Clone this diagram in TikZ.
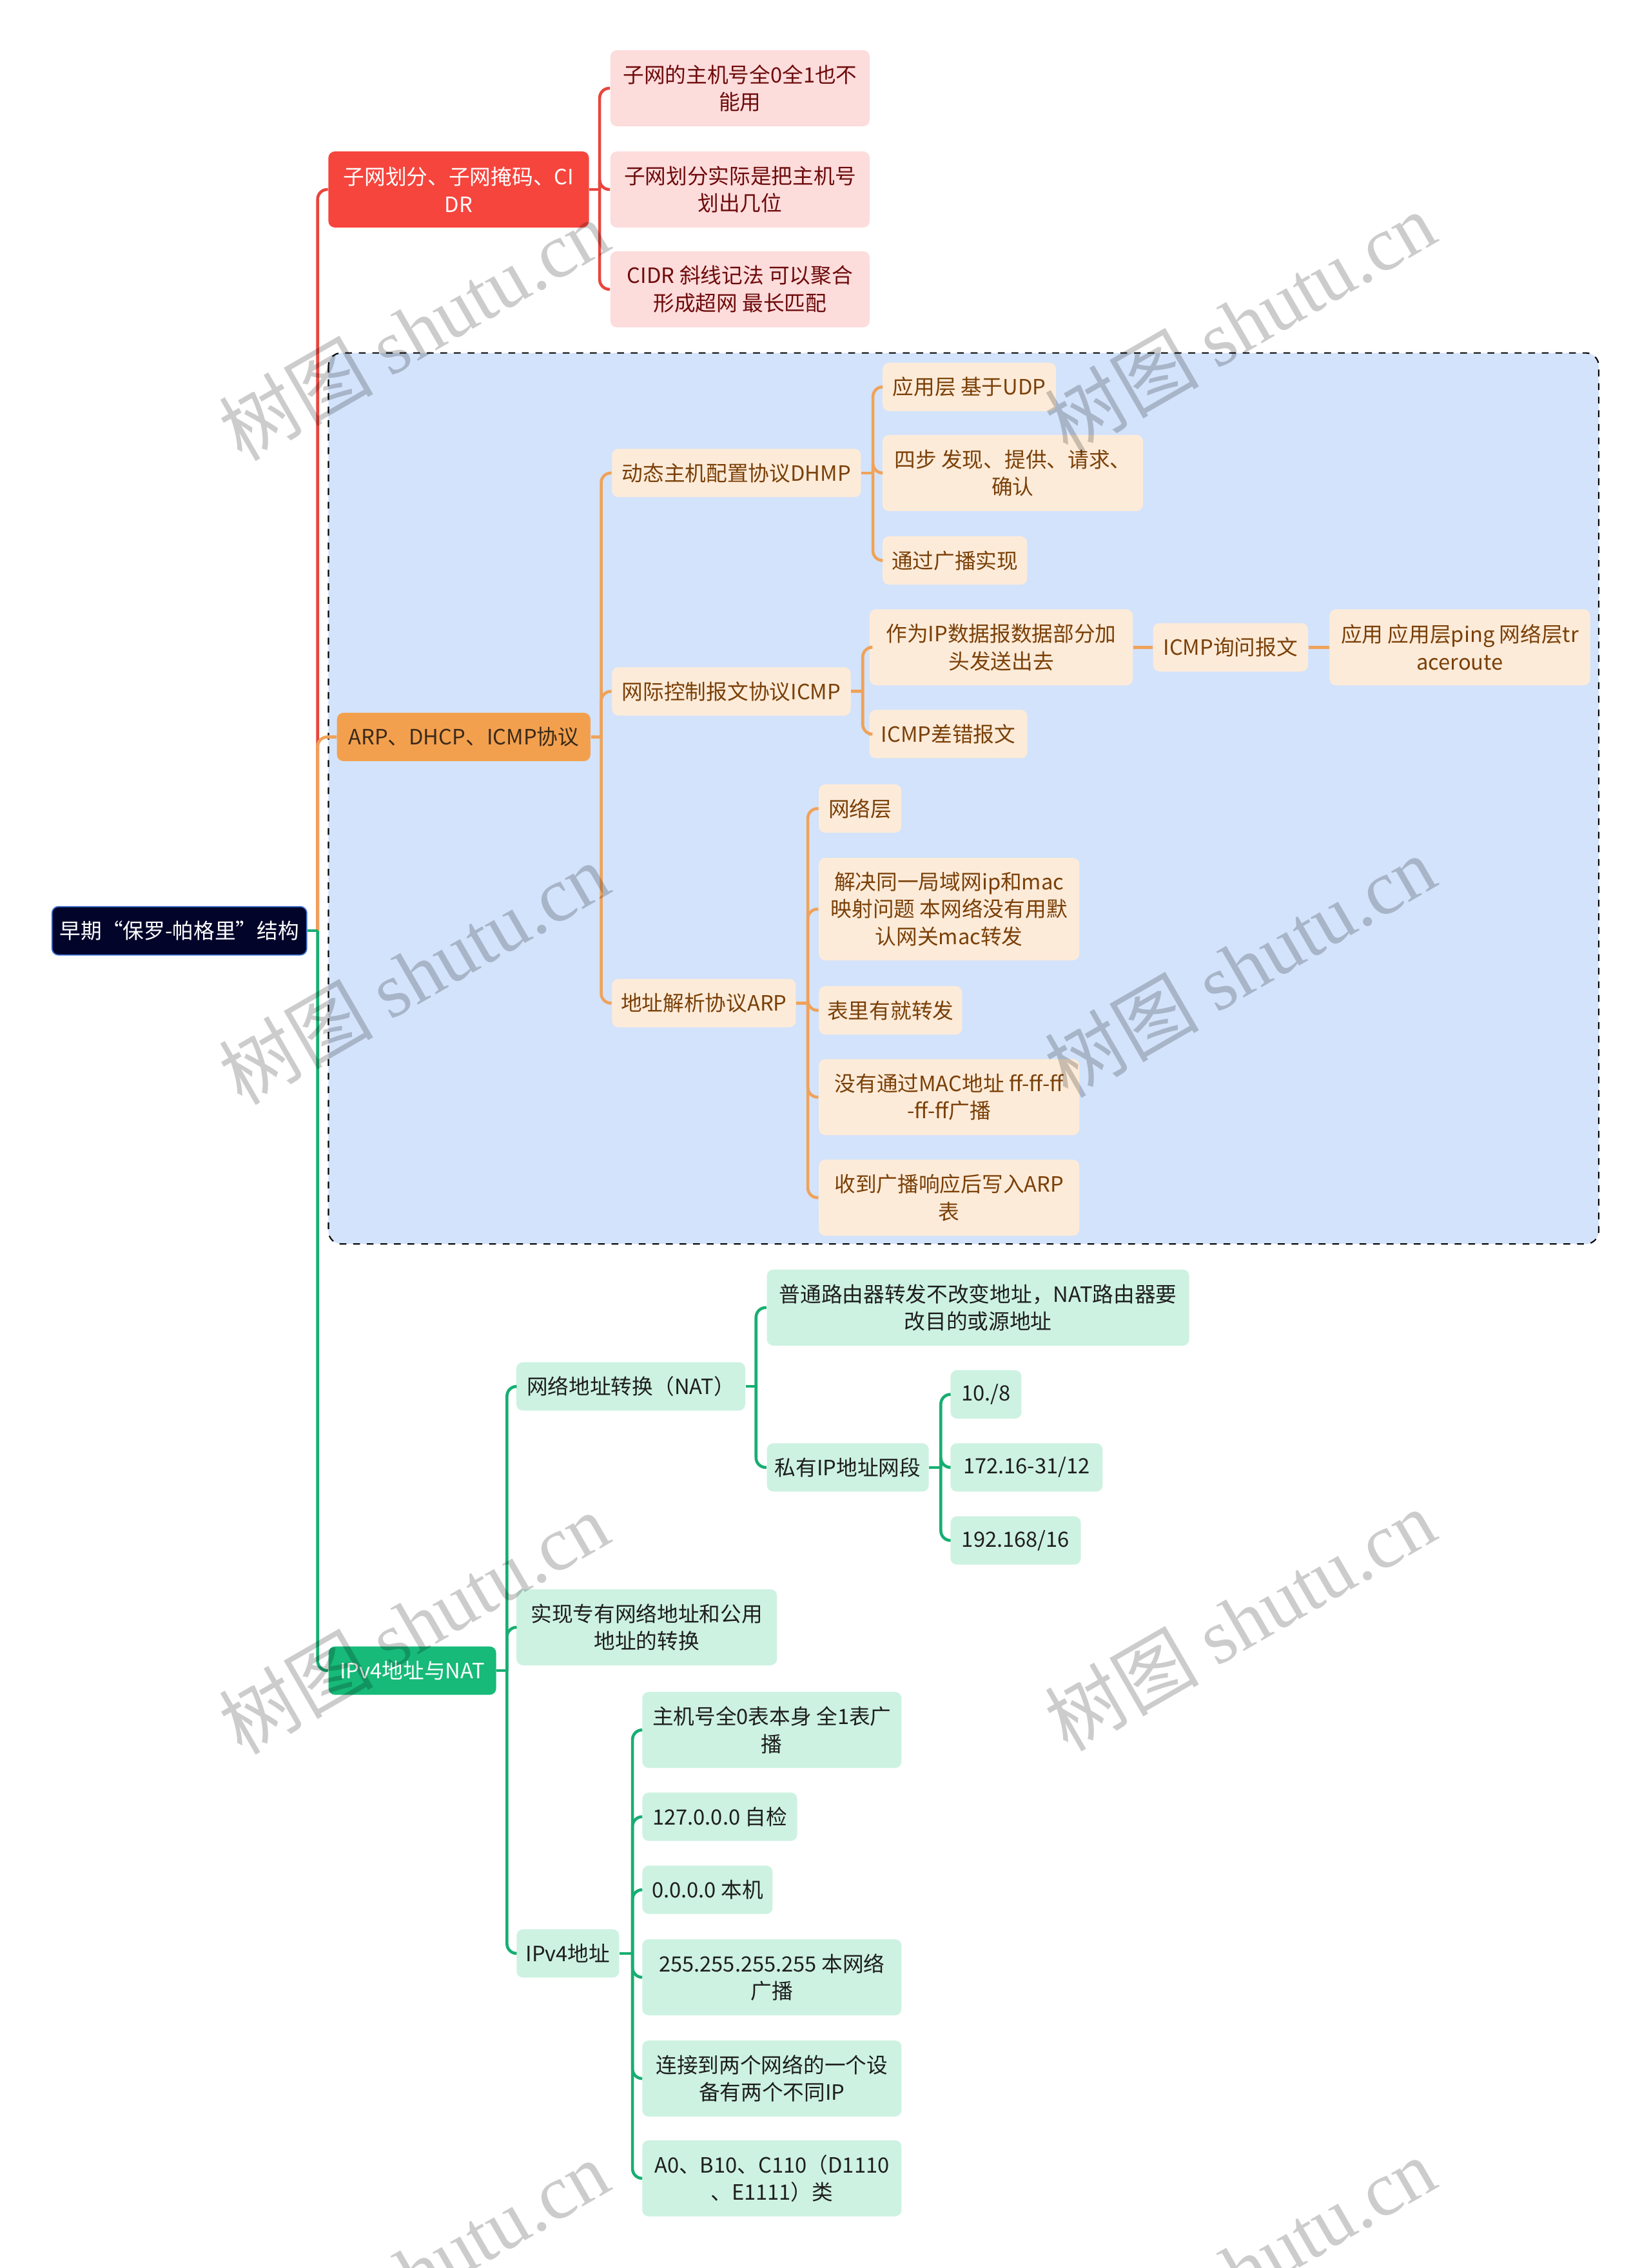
\documentclass[tikz,border=0pt]{standalone}
\usepackage{fontspec}
\setmainfont{Noto Sans CJK SC}
\newfontfamily\wmfont{Liberation Serif}
\usetikzlibrary{positioning}

\definecolor{rootfill}{HTML}{02042A}
\definecolor{rootline}{HTML}{3B6FD0}
\definecolor{redmain}{HTML}{F5453D}
\definecolor{orangemain}{HTML}{F3A04E}
\definecolor{orangetext}{HTML}{3A2A1A}
\definecolor{greenmain}{HTML}{17BA78}
\definecolor{pinkleaf}{HTML}{FDDCDC}
\definecolor{pinktext}{HTML}{6E0B0B}
\definecolor{peachleaf}{HTML}{FDEBD9}
\definecolor{peachtext}{HTML}{7A4008}
\definecolor{mintleaf}{HTML}{CDF2E2}
\definecolor{minttext}{HTML}{1E1E1E}
\definecolor{groupfill}{HTML}{D3E3FB}
\definecolor{redline}{HTML}{E8453D}
\definecolor{orangeline}{HTML}{F0A258}
\definecolor{greenline}{HTML}{17AE72}

\tikzset{
  box/.style={rounded corners=1mm,inner sep=1pt,align=center,font=\fontsize{9.3}{12.1}\selectfont,minimum height=7.5mm},
  two/.style={minimum height=11.8mm},
  three/.style={minimum height=15.9mm},
  rootbox/.style={box,fill=rootfill,draw=rootline,line width=0.5pt,text=white},
  redbox/.style={box,fill=redmain,text=white},
  orangebox/.style={box,fill=orangemain,text=orangetext},
  greenbox/.style={box,fill=greenmain,text=white},
  pinkbox/.style={box,fill=pinkleaf,text=pinktext},
  peachbox/.style={box,fill=peachleaf,text=peachtext},
  mintbox/.style={box,fill=mintleaf,text=minttext},
  link/.style={line width=1.3pt,rounded corners=1.5mm},
  redlink/.style={link,draw=redline},
  orangelink/.style={link,draw=orangeline},
  greenlink/.style={link,draw=greenline},
  groupbox/.style={draw=black,dashed,line width=0.6pt,fill=groupfill,rounded corners=2mm},
  watermark/.style={rotate=30,text=black,opacity=0.2,font=\fontsize{34}{34}\selectfont}
}

\begin{document}
\begin{tikzpicture}[x=0.22437mm,y=-0.22437mm]
\useasboundingbox[fill=white] (0,0) rectangle (1141,1568);

% boundary round the protocol branch
\draw[groupbox] (227,244) rectangle (1105,860);

% root and main branches
\node[rootbox,minimum width=39.5mm] (root) at (124,643.5) {早期“保罗-帕格里”结构};
\node[redbox,two,minimum width=40.4mm] (snet) at (317,131) {子网划分、子网掩码、CI\\DR};
\node[orangebox,minimum width=39.3mm] (proto) at (320.5,509.5) {ARP、DHCP、ICMP协议};
\node[greenbox,minimum width=26.0mm] (ipnat) at (285,1155) {IPv4地址与NAT};

% subnet branch
\node[pinkbox,two,minimum width=40.2mm] (sn1) at (511.5,61) {子网的主机号全0全1也不\\能用};
\node[pinkbox,two,minimum width=40.2mm] (sn2) at (511.5,131) {子网划分实际是把主机号\\划出几位};
\node[pinkbox,two,minimum width=40.2mm] (sn3) at (511.5,200) {CIDR 斜线记法 可以聚合\\形成超网 最长匹配};

% protocol branch
\node[peachbox,minimum width=38.6mm] (dhcp) at (509,327) {动态主机配置协议DHMP};
\node[peachbox,minimum width=37.0mm] (icmp) at (505.5,478) {网际控制报文协议ICMP};
\node[peachbox,minimum width=28.5mm] (arp) at (486.5,693.5) {地址解析协议ARP};

\node[peachbox,minimum width=26.9mm] (dh1) at (670,267.5) {应用层 基于UDP};
\node[peachbox,two,minimum width=40.4mm] (dh2) at (700,327) {四步 发现、提供、请求、\\确认};
\node[peachbox,minimum width=22.4mm] (dh3) at (660,387.5) {通过广播实现};

\node[peachbox,two,minimum width=40.8mm] (ic1) at (692,447.5) {作为IP数据报数据部分加\\头发送出去};
\node[peachbox,minimum width=24.5mm] (ic2) at (655.5,507.5) {ICMP差错报文};
\node[peachbox,minimum width=24.0mm] (ic3) at (850.5,447.5) {ICMP询问报文};
\node[peachbox,two,minimum width=40.4mm] (ic4) at (1009,447.5) {应用 应用层ping 网络层tr\\aceroute};

\node[peachbox,minimum width=12.8mm] (ar1) at (594.5,559) {网络层};
\node[peachbox,three,minimum width=40.4mm] (ar2) at (656,628.5) {解决同一局域网ip和mac\\映射问题 本网络没有用默\\认网关mac转发};
\node[peachbox,minimum width=22.2mm] (ar3) at (615.5,698.5) {表里有就转发};
\node[peachbox,two,minimum width=40.4mm] (ar4) at (656,758.5) {没有通过MAC地址 ff-ff-ff\\-ff-ff广播};
\node[peachbox,two,minimum width=40.4mm] (ar5) at (656,828) {收到广播响应后写入ARP\\表};

% IPv4 and NAT branch
\node[mintbox,minimum width=35.5mm] (nat) at (436,958.5) {网络地址转换（NAT）};
\node[mintbox,two,minimum width=40.4mm] (xlate) at (447,1125) {实现专有网络地址和公用\\地址的转换};
\node[mintbox,minimum width=15.9mm] (ipv4) at (392.5,1350.5) {IPv4地址};

\node[mintbox,two,minimum width=65.5mm] (nt1) at (676,904) {普通路由器转发不改变地址，NAT路由器要\\改目的或源地址};
\node[mintbox,minimum width=25.1mm] (priv) at (586,1014.5) {私有IP地址网段};
\node[mintbox,minimum width=11.0mm] (pv1) at (681.5,964) {10./8};
\node[mintbox,minimum width=23.6mm] (pv2) at (709.5,1014.5) {172.16-31/12};
\node[mintbox,minimum width=20.2mm] (pv3) at (702,1065) {192.168/16};

\node[mintbox,two,minimum width=40.2mm] (v1) at (533.5,1196) {主机号全0表本身 全1表广\\播};
\node[mintbox,minimum width=24.0mm] (v2) at (497.5,1256) {127.0.0.0 自检};
\node[mintbox,minimum width=20.2mm] (v3) at (489,1306.5) {0.0.0.0 本机};
\node[mintbox,two,minimum width=40.2mm] (v4) at (533.5,1367) {255.255.255.255 本网络\\广播};
\node[mintbox,two,minimum width=40.2mm] (v5) at (533.5,1437) {连接到两个网络的一个设\\备有两个不同IP};
\node[mintbox,two,minimum width=40.2mm] (v6) at (533.5,1506) {A0、B10、C110（D1110\\、E1111）类};

% junction points on the trunks
\coordinate (jroot) at ([xshift=1.6mm]root.east);
\coordinate (jsnet) at ([xshift=1.6mm]snet.east);
\coordinate (jproto) at ([xshift=1.6mm]proto.east);
\coordinate (jdhcp) at ([xshift=1.8mm]dhcp.east);
\coordinate (jicmp) at ([xshift=1.8mm]icmp.east);
\coordinate (jarp) at ([xshift=1.8mm]arp.east);
\coordinate (jipnat) at ([xshift=1.6mm]ipnat.east);
\coordinate (jnat) at ([xshift=1.6mm]nat.east);
\coordinate (jpriv) at ([xshift=1.8mm]priv.east);
\coordinate (jipv4) at ([xshift=2.0mm]ipv4.east);

% connectors
\draw[redlink] (jroot) |- (snet.west);
\draw[orangelink] (jroot) |- (proto.west);
\draw[greenlink] (root.east) -- (jroot);
\draw[greenlink] (jroot) |- (ipnat.west);

\draw[redlink] (snet.east) -- (jsnet);
\draw[redlink] (jsnet) |- (sn1.west);
\draw[redlink] (jsnet) |- (sn2.west);
\draw[redlink] (jsnet) |- (sn3.west);

\draw[orangelink] (proto.east) -- (jproto);
\draw[orangelink] (jproto) |- (dhcp.west);
\draw[orangelink] (jproto) |- (icmp.west);
\draw[orangelink] (jproto) |- (arp.west);
\draw[orangelink] (dhcp.east) -- (jdhcp);
\draw[orangelink] (jdhcp) |- (dh1.west);
\draw[orangelink] (jdhcp) |- (dh2.west);
\draw[orangelink] (jdhcp) |- (dh3.west);
\draw[orangelink] (icmp.east) -- (jicmp);
\draw[orangelink] (jicmp) |- (ic1.west);
\draw[orangelink] (jicmp) |- (ic2.west);
\draw[orangelink] (ic1.east) -- (ic3.west);
\draw[orangelink] (ic3.east) -- (ic4.west);
\draw[orangelink] (arp.east) -- (jarp);
\draw[orangelink] (jarp) |- (ar1.west);
\draw[orangelink] (jarp) |- (ar2.west);
\draw[orangelink] (jarp) |- (ar3.west);
\draw[orangelink] (jarp) |- (ar4.west);
\draw[orangelink] (jarp) |- (ar5.west);

\draw[greenlink] (ipnat.east) -- (jipnat);
\draw[greenlink] (jipnat) |- (nat.west);
\draw[greenlink] (jipnat) |- (xlate.west);
\draw[greenlink] (jipnat) |- (ipv4.west);
\draw[greenlink] (nat.east) -- (jnat);
\draw[greenlink] (jnat) |- (nt1.west);
\draw[greenlink] (jnat) |- (priv.west);
\draw[greenlink] (priv.east) -- (jpriv);
\draw[greenlink] (jpriv) |- (pv1.west);
\draw[greenlink] (jpriv) |- (pv2.west);
\draw[greenlink] (jpriv) |- (pv3.west);
\draw[greenlink] (ipv4.east) -- (jipv4);
\draw[greenlink] (jipv4) |- (v1.west);
\draw[greenlink] (jipv4) |- (v2.west);
\draw[greenlink] (jipv4) |- (v3.west);
\draw[greenlink] (jipv4) |- (v4.west);
\draw[greenlink] (jipv4) |- (v5.west);
\draw[greenlink] (jipv4) |- (v6.west);

% watermarks
\node[watermark] (wm1) at (286,228) {树图 {\wmfont shutu.cn}};
\node[watermark] (wm2) at (857,223) {树图 {\wmfont shutu.cn}};
\node[watermark] (wm3) at (286,673) {树图 {\wmfont shutu.cn}};
\node[watermark] (wm4) at (857,668) {树图 {\wmfont shutu.cn}};
\node[watermark] (wm5) at (286,1122) {树图 {\wmfont shutu.cn}};
\node[watermark] (wm6) at (857,1120) {树图 {\wmfont shutu.cn}};
\node[watermark] (wm7) at (286,1570) {树图 {\wmfont shutu.cn}};
\node[watermark] (wm8) at (857,1568) {树图 {\wmfont shutu.cn}};
\end{tikzpicture}
\end{document}
